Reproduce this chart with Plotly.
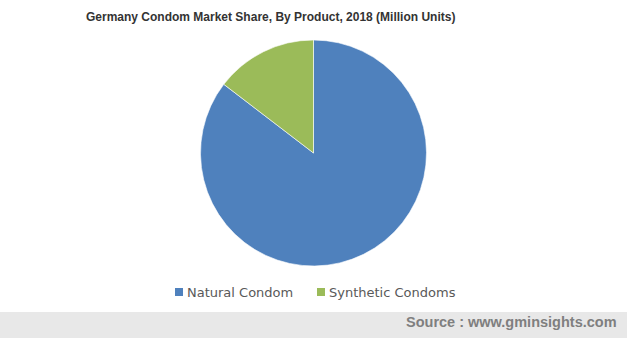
import plotly.graph_objects as go

W, H = 627, 338
labels = ["Natural Condom", "Synthetic Condoms"]
values = [85.4, 14.6]
colors = ["#4F81BD", "#9BBB59"]

title_text = "Germany Condom Market Share, By Product, 2018 (Million Units)"
source_text = "Source : www.gminsights.com"

fig = go.Figure(go.Pie(
    labels=labels, values=values, sort=False, direction="clockwise", rotation=0,
    marker=dict(colors=colors, line=dict(color="#ffffff", width=0.6)),
    textinfo="none", hoverinfo="label+value", showlegend=False,
    domain=dict(x=[200 / W, 427 / W], y=[72 / H, 298 / H]),
))

# custom legend (square swatch + label)
legend_x = [175, 317]  # swatch left edges in px
shapes = [dict(type="rect", xref="paper", yref="paper", x0=0, x1=1, y0=0, y1=26 / H,
               fillcolor="#e8e8e8", line=dict(width=0), layer="below")]
annotations = [
    dict(text="<b>" + title_text + "</b>", x=270.5 / W, y=(H - 17) / H, xref="paper", yref="paper",
         xanchor="center", yanchor="middle", showarrow=False,
         font=dict(family="Liberation Sans", size=12, color="#333333")),
    dict(text="<b>" + source_text + "</b>", x=619 / W, y=(H - 322) / H, xref="paper", yref="paper",
         xanchor="right", yanchor="middle", showarrow=False,
         font=dict(family="Liberation Sans", size=14.5, color="#7f7f7f")),
]
for lab, col, lx in zip(labels, colors, legend_x):
    shapes.append(dict(type="rect", xref="paper", yref="paper",
                       x0=lx / W, x1=(lx + 8) / W, y0=(H - 296) / H, y1=(H - 288) / H,
                       fillcolor=col, line=dict(width=0)))
    annotations.append(dict(text=lab, x=(lx + 10) / W, y=(H - 292) / H, xref="paper", yref="paper",
                            xanchor="left", yanchor="middle", showarrow=False,
                            font=dict(family="DejaVu Sans", size=13, color="#595959")))

fig.update_layout(
    width=W, height=H, margin=dict(l=0, r=0, t=0, b=0),
    paper_bgcolor="#ffffff", plot_bgcolor="#ffffff",
    shapes=shapes, annotations=annotations,
)

fig.write_html("out.html")
